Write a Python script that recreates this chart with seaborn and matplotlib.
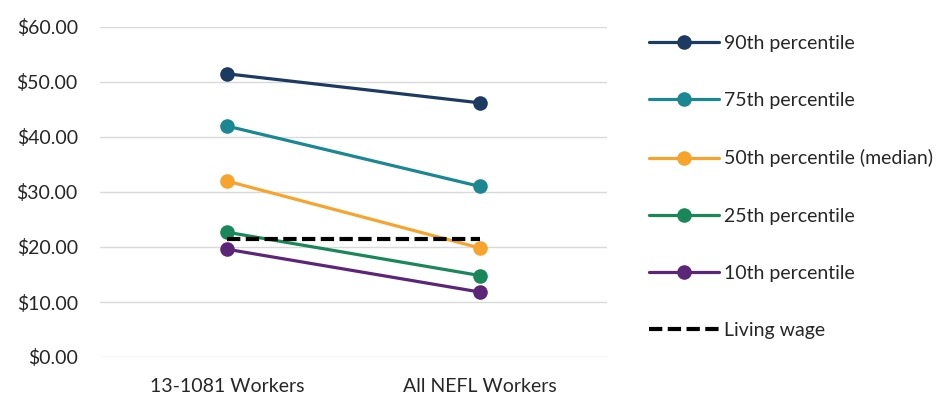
import matplotlib
matplotlib.use("Agg")
import matplotlib.pyplot as plt
import seaborn as sns
import pandas as pd

# Hourly wage percentiles by worker group
categories = ["13-1081 Workers", "All NEFL Workers"]
series_names = ["90th percentile", "75th percentile", "50th percentile (median)",
                "25th percentile", "10th percentile"]
p90 = [51.5, 46.2]
p75 = [42.0, 31.0]
p50 = [32.0, 19.8]
p25 = [22.7, 14.8]
p10 = [19.6, 11.8]
living_wage = [21.4, 21.4]
y_ticks = [0, 10, 20, 30, 40, 50, 60]

colors = ["#1d3a63", "#1b8793", "#f7a42e", "#19875a", "#5b2677"]

sns.set_theme(style="white")
plt.rcParams["font.family"] = ["Lato", "DejaVu Sans"]

rows = []
for name, vals in zip(series_names, [p90, p75, p50, p25, p10]):
    for cat, v in zip(categories, vals):
        rows.append({"group": cat, "wage": v, "series": name})
df = pd.DataFrame(rows)
lw_df = pd.DataFrame({"group": categories, "wage": living_wage, "series": "Living wage"})

fig = plt.figure(figsize=(9.51, 3.97), dpi=100)
ax = fig.add_axes([100 / 951, 1 - 357 / 397, 507 / 951, 330 / 397])

sns.lineplot(data=df, x="group", y="wage", hue="series", hue_order=series_names,
             palette=colors, marker="o", markersize=10.5, markeredgewidth=0,
             linewidth=2.3, ax=ax, sort=False, zorder=3)
sns.lineplot(data=lw_df, x="group", y="wage", color="black", linewidth=3,
             linestyle=(0, (3.2, 1.3)), ax=ax, label="Living wage", zorder=4)

ax.set_xlim(-0.5, 1.5)
ax.set_ylim(0, 60)
ax.set_yticks(y_ticks)
ax.set_yticklabels([f"${t:.2f}" for t in y_ticks])
ax.set_xlabel("")
ax.set_ylabel("")
ax.grid(axis="y", color="#d9d9d9", linewidth=1)
ax.set_axisbelow(True)
for s in ax.spines.values():
    s.set_visible(False)
ax.tick_params(axis="y", length=0, pad=16, labelsize=14, labelcolor="#262626")
ax.tick_params(axis="x", length=0, pad=15, labelsize=14, labelcolor="#262626")

handles, labels = ax.get_legend_handles_labels()
ax.legend_.remove()
leg = fig.legend(handles, labels, loc="upper left",
                 bbox_to_anchor=(641 / 951, 1 - 27 / 397),
                 frameon=False, fontsize=14, labelspacing=2.07,
                 handlelength=3.6, handletextpad=0.28, borderaxespad=0)
for t in leg.get_texts():
    t.set_color("#262626")

fig.savefig("out.png", dpi=100)
